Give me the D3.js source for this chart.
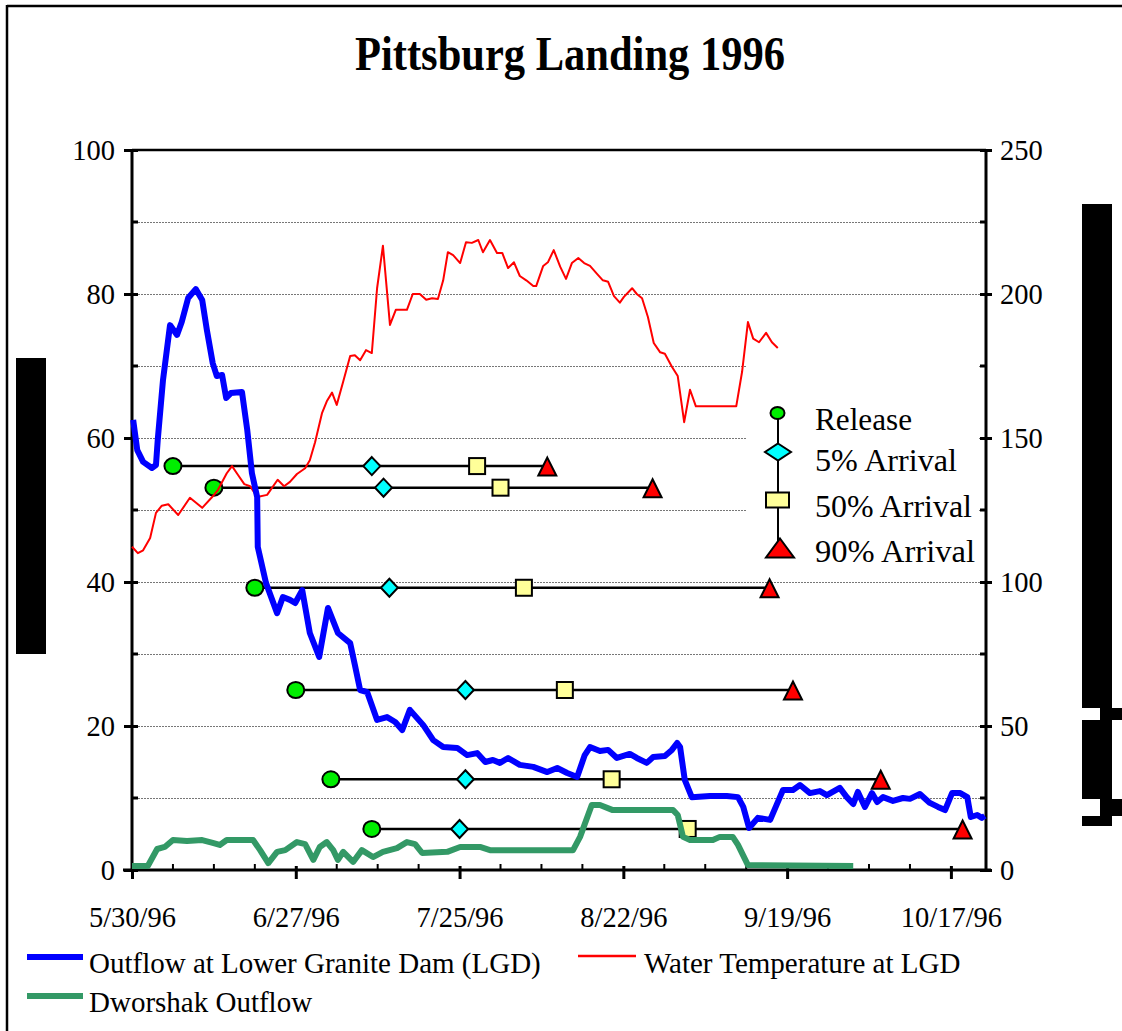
<!DOCTYPE html>
<html><head><meta charset="utf-8">
<script src="https://cdn.jsdelivr.net/npm/d3@7"></script>
<style>
body{margin:0;background:#fff}
svg{display:block}
text{font-family:"Liberation Serif","Times New Roman",Times,serif;fill:#000}
</style>
</head><body>
<svg id="chart" width="1122" height="1031"></svg>
<script>
// ---------------- DATA ----------------
const chartTitle = "Pittsburg Landing 1996";
const startDate = "5/30/96";
const endDate = "10/23/96";
const xTickLabels = ["5/30/96","6/27/96","7/25/96","8/22/96","9/19/96","10/17/96"];
const leftTicks = [0,20,40,60,80,100];
const rightTicks = [0,50,100,150,200,250];

// Outflow at Lower Granite Dam (kcfs, right axis); days after 5/30/96
const outflowDay = [0.2,0.9,1.9,3.4,4.1,4.4,5.3,6.5,7.7,8.5,
  9.6,10.9,12.0,12.8,13.8,14.5,15.4,16.1,16.9,18.8,
  19.7,20.5,21.4,21.5,22.9,24.8,25.8,27.0,27.9,29.1,
  30.4,32.0,33.5,35.2,37.3,38.1,39.0,40.2,41.9,43.6,
  45.0,46.2,47.5,49.8,51.5,53.2,55.6,57.3,59.0,60.4,
  61.7,62.9,64.3,66.3,68.6,71.0,72.7,74.4,76.1,77.4,
  78.3,80.0,81.4,82.9,85.1,86.3,88.0,89.1,91.1,92.3,
  93.2,93.7,94.5,95.7,98.8,101.7,103.6,104.5,105.5,107.0,
  109.1,111.3,113.0,114.2,115.9,117.6,118.8,121.0,122.2,123.3,
  124.1,125.3,126.5,127.4,128.4,130.1,131.8,133.0,134.7,136.4,
  137.8,139.0,140.2,141.6,142.8,143.4,144.5,145.3,145.8];
const outflowKcfs = [156.3,145.8,141.7,139.6,140.6,149.3,170.1,189.2,185.8,190.3,
  198.6,201.7,197.9,187.5,176.0,171.5,171.9,163.9,165.6,166.0,
  152.8,137.8,129.5,112.2,99.7,89.2,94.8,93.8,92.7,97.2,
  82.3,74.0,91.0,82.3,78.8,71.2,62.5,61.8,52.1,53.1,
  51.4,48.6,55.6,50.3,45.1,42.7,42.4,39.9,40.6,37.5,
  38.2,37.2,38.9,36.5,35.8,34.0,35.4,33.7,32.3,39.9,
  42.7,41.3,41.7,38.9,40.3,38.9,37.2,39.2,39.6,41.7,
  44.1,42.7,31.3,25.3,25.7,25.7,25.3,21.9,14.6,18.1,
  17.4,27.8,27.8,29.5,26.7,27.4,26.0,28.5,25.3,22.9,
  27.1,21.9,26.7,23.6,25.3,24.0,25.0,24.7,26.4,23.3,
  21.9,20.8,26.7,26.7,25.3,18.4,19.1,18.1,18.8];

// Water temperature at LGD (left axis)
const tempDay = [0,1.0,1.9,3.1,4.1,5.1,6.2,7.9,9.9,12.0,
  13.7,14.7,16.2,17.1,18.1,19.2,20.2,21.4,23.1,24.9,
  26.0,27.0,28.2,29.6,30.4,31.3,32.5,33.3,34.2,35.0,
  36.1,37.3,38.1,39.0,40.0,41.0,41.9,42.9,44.1,45.1,
  47.0,48.0,49.2,50.3,51.3,52.3,53.2,54.0,54.9,56.1,
  57.1,58.1,59.2,60.0,61.2,62.4,63.3,64.3,65.3,66.3,
  67.4,68.6,69.1,70.3,71.1,72.1,73.2,74.2,75.2,76.3,
  77.3,78.3,79.5,80.5,81.4,82.4,83.4,84.1,85.5,86.3,
  87.2,88.2,89.2,90.3,91.1,92.3,93.3,94.4,95.4,96.4,
  103.3,104.3,105.3,106.2,107.2,108.4,109.4,110.4];
const tempValue = [44.9,44.0,44.4,46.1,49.6,50.6,50.8,49.3,51.7,50.3,
  51.8,52.8,55.1,56.1,54.9,53.6,53.3,51.8,52.1,54.2,
  53.3,53.9,55.0,55.8,56.9,59.4,63.5,65.1,66.3,64.6,
  67.8,71.4,71.5,70.8,72.2,71.8,80.8,86.7,75.7,77.8,
  77.8,80.0,80.0,79.2,79.4,79.3,81.9,85.8,85.4,84.3,
  87.2,87.1,87.5,85.8,87.5,85.7,85.7,83.6,84.4,82.5,
  81.9,81.1,81.1,83.9,84.4,86.1,83.8,82.1,84.3,85.0,
  84.3,83.9,82.8,81.9,81.7,79.7,78.8,79.6,80.8,80.0,
  79.4,76.8,73.2,71.9,71.7,69.9,68.6,62.2,66.7,64.4,
  64.4,69.2,76.1,73.8,73.3,74.6,73.3,72.5];

// Dworshak outflow (kcfs, right axis)
const dworshakDay = [0,2.7,4.3,5.6,7.0,9.4,12.0,13.8,15.0,16.2,
  20.7,21.9,23.3,24.8,26.2,28.2,29.6,31.0,32.1,33.3,
  34.4,35.2,36.1,37.8,39.3,41.2,42.9,45.3,47.0,48.4,
  49.6,53.9,56.1,59.5,61.2,75.4,76.6,78.6,80.0,82.2,
  92.5,93.3,94.2,95.4,99.3,100.5,102.7,103.6,105.3,123.3];
const dworshakKcfs = [1.4,1.4,7.3,8.0,10.4,10.1,10.4,9.4,8.7,10.4,
  10.4,6.9,2.4,6.3,6.9,9.7,9.0,3.5,8.0,9.7,
  6.9,3.5,6.3,2.8,6.9,4.5,6.3,7.6,9.7,9.0,
  5.9,6.3,8.0,8.0,6.9,6.9,11.5,22.6,22.6,20.8,
  20.8,19.1,11.5,10.4,10.4,11.5,11.5,8.7,1.7,1.4];

// Release groups (days after 5/30/96) and the level (left axis) each group is drawn at
const releaseDay   = [7,14,21,28,34,41];
const arrival5Day  = [41,43,44,57,57,56];
const arrival50Day = [59,63,67,74,82,95];
const arrival90Day = [71,89,109,113,128,142];
const groupLevel   = [56.1,53.1,39.2,25.0,12.6,5.7];

const markerLegend = ["Release","5% Arrival","50% Arrival","90% Arrival"];
const seriesNames = ["Outflow at Lower Granite Dam (LGD)","Water Temperature at LGD","Dworshak Outflow"];

// ---------------- DRAW ----------------
const svg = d3.select("#chart");
const parse = d3.utcParse("%m/%d/%y");
const t0 = parse(startDate);
const dayToDate = d => new Date(t0.getTime() + d * 864e5);

const L = 132, R = 986, T = 150, B = 870;
const x = d3.scaleUtc().domain([t0, parse(endDate)]).range([L, R]);
const yL = d3.scaleLinear().domain([0,100]).range([B, T]);
const yR = d3.scaleLinear().domain([0,250]).range([B, T]);

// outer frame
svg.append("line").attr("x1",7).attr("x2",1122).attr("y1",6).attr("y2",6).attr("stroke","#000").attr("stroke-width",2.5);
svg.append("line").attr("x1",7).attr("x2",7).attr("y1",5).attr("y2",1031).attr("stroke","#000").attr("stroke-width",2.5);

// title
svg.append("text").attr("x",355).attr("y",70).attr("font-size",48).attr("font-weight","bold")
  .attr("textLength",430).attr("lengthAdjust","spacingAndGlyphs").text(chartTitle);

// black (unrendered) axis titles
svg.append("rect").attr("x",16).attr("y",358).attr("width",30).attr("height",296).attr("fill","#000");
const rb = svg.append("g").attr("fill","#000");
rb.append("rect").attr("x",1082).attr("y",204).attr("width",30).attr("height",504);
rb.append("rect").attr("x",1100).attr("y",708).attr("width",22).attr("height",12);
rb.append("rect").attr("x",1082).attr("y",720).attr("width",30).attr("height",79);
rb.append("rect").attr("x",1100).attr("y",799).attr("width",22).attr("height",17);
rb.append("rect").attr("x",1082).attr("y",816).attr("width",30).attr("height",10);

// gridlines every 10 (left axis)
const gridVals = d3.range(10,100,10);
svg.append("g").selectAll("line").data(gridVals).join("line")
  .attr("x1",L).attr("x2",R).attr("y1",d=>yL(d)+0.5).attr("y2",d=>yL(d)+0.5)
  .attr("stroke","#777").attr("stroke-width",1).attr("stroke-dasharray","2,1");

// plot top border
svg.append("line").attr("x1",L).attr("x2",R).attr("y1",T).attr("y2",T).attr("stroke","#000").attr("stroke-width",2.5);

// legend box (white, covers gridlines)
svg.append("rect").attr("x",747).attr("y",360).attr("width",232).attr("height",215).attr("fill","#fff");

// left axis
const fs = 28.5;
const gL = svg.append("g").attr("transform",`translate(${L},0)`)
  .call(d3.axisLeft(yL).tickValues(leftTicks).tickSize(8).tickPadding(9).tickFormat(d3.format("d")));
gL.select(".domain").attr("stroke","#000").attr("stroke-width",3).attr("d",`M0,${T}V${B+2}`);
gL.selectAll(".tick line").attr("x1",6).attr("x2",-8).attr("stroke-width",3);
gL.selectAll(".tick text").attr("font-size",fs).attr("font-family",null);
gL.selectAll(".minor").data(d3.range(10,100,20)).join("line").attr("class","minor")
  .attr("x1",0).attr("x2",6).attr("y1",d=>yL(d)).attr("y2",d=>yL(d)).attr("stroke","#000").attr("stroke-width",3);

// right axis
const gR = svg.append("g").attr("transform",`translate(${R},0)`)
  .call(d3.axisRight(yR).tickValues(rightTicks).tickSize(6).tickPadding(8).tickFormat(d3.format("d")));
gR.select(".domain").attr("stroke","#000").attr("stroke-width",3).attr("d",`M0,${T-1}V${B+2}`);
gR.selectAll(".tick line").attr("x1",-6).attr("x2",6).attr("stroke-width",3);
gR.selectAll(".tick text").attr("font-size",fs).attr("font-family",null);
gR.selectAll(".minor").data(d3.range(25,250,50)).join("line").attr("class","minor")
  .attr("x1",0).attr("x2",-6).attr("y1",d=>yR(d)).attr("y2",d=>yR(d)).attr("stroke","#000").attr("stroke-width",3);

// bottom axis
const majorDates = xTickLabels.map(parse);
const gB = svg.append("g").attr("transform",`translate(0,${B})`)
  .call(d3.axisBottom(x).tickValues(majorDates).tickSize(9).tickPadding(28).tickFormat((d,i)=>xTickLabels[i]));
gB.select(".domain").attr("stroke","#000").attr("stroke-width",3).attr("d",`M${L-9},0H${R+5}`);
gB.selectAll(".tick line").attr("y1",-4).attr("y2",9).attr("stroke-width",3);
gB.selectAll(".tick text").attr("font-size",fs).attr("font-family",null).attr("dy","0.71em").attr("y",37);
const minorDays = d3.range(0,147,7).filter(d=>d%28!==0);
gB.selectAll(".minor").data(minorDays).join("line").attr("class","minor")
  .attr("x1",d=>x(dayToDate(d))).attr("x2",d=>x(dayToDate(d))).attr("y1",0).attr("y2",-6)
  .attr("stroke","#000").attr("stroke-width",2);

// ---- release / arrival markers ----
const mk = svg.append("g");
const groups = releaseDay.map((r,i)=>({r, a5:arrival5Day[i], a50:arrival50Day[i], a90:arrival90Day[i], lv:groupLevel[i]}));
mk.selectAll("line.grp").data(groups).join("line").attr("class","grp")
  .attr("x1",d=>x(dayToDate(d.r))).attr("x2",d=>x(dayToDate(d.a90)))
  .attr("y1",d=>yL(d.lv)).attr("y2",d=>yL(d.lv)).attr("stroke","#000").attr("stroke-width",2.5);

function diamondPath(cx,cy,w,h){return `M${cx},${cy-h/2}L${cx+w/2},${cy}L${cx},${cy+h/2}L${cx-w/2},${cy}Z`;}
function trianglePath(cx,cy,w,h){return `M${cx},${cy-h/2}L${cx+w/2},${cy+h/2}L${cx-w/2},${cy+h/2}Z`;}

mk.selectAll("ellipse.rel").data(groups).join("ellipse").attr("class","rel")
  .attr("cx",d=>x(dayToDate(d.r))).attr("cy",d=>yL(d.lv)).attr("rx",8.5).attr("ry",8)
  .attr("fill","#00ee00").attr("stroke","#000").attr("stroke-width",2);
mk.selectAll("path.a5").data(groups).join("path").attr("class","a5")
  .attr("d",d=>diamondPath(x(dayToDate(d.a5)),yL(d.lv),17,18))
  .attr("fill","#00ffff").attr("stroke","#000").attr("stroke-width",2);
mk.selectAll("rect.a50").data(groups).join("rect").attr("class","a50")
  .attr("x",d=>x(dayToDate(d.a50))-8).attr("y",d=>yL(d.lv)-8).attr("width",16).attr("height",16)
  .attr("fill","#ffff99").attr("stroke","#000").attr("stroke-width",2);
mk.selectAll("path.a90").data(groups).join("path").attr("class","a90")
  .attr("d",d=>trianglePath(x(dayToDate(d.a90)),yL(d.lv)+0.5,18,18))
  .attr("fill","#ff0000").attr("stroke","#000").attr("stroke-width",2);

// ---- series lines ----
const lineTemp = d3.line().x((d,i)=>x(dayToDate(tempDay[i]))).y(d=>yL(d));
svg.append("path").datum(tempValue).attr("d",lineTemp).attr("fill","none")
  .attr("stroke","#ff0000").attr("stroke-width",2).attr("stroke-linejoin","round");

const lineOut = d3.line().x((d,i)=>x(dayToDate(outflowDay[i]))).y(d=>yR(d));
svg.append("path").datum(outflowKcfs).attr("d",lineOut).attr("fill","none")
  .attr("stroke","#0000ff").attr("stroke-width",6).attr("stroke-linejoin","round");

const lineDw = d3.line().x((d,i)=>x(dayToDate(dworshakDay[i]))).y(d=>yR(d));
svg.append("path").datum(dworshakKcfs).attr("d",lineDw).attr("fill","none")
  .attr("stroke","#339966").attr("stroke-width",6).attr("stroke-linejoin","round");

// ---- marker legend ----
const lg = svg.append("g");
const lgY = [413,452,500,548];
lg.append("line").attr("x1",778).attr("x2",778).attr("y1",lgY[0]).attr("y2",lgY[3]).attr("stroke","#000").attr("stroke-width",2);
lg.append("ellipse").attr("cx",777.5).attr("cy",lgY[0]).attr("rx",7).attr("ry",6).attr("fill","#00ee00").attr("stroke","#000").attr("stroke-width",2);
lg.append("path").attr("d",diamondPath(778,lgY[1],26,17)).attr("fill","#00ffff").attr("stroke","#000").attr("stroke-width",2);
lg.append("rect").attr("x",766).attr("y",lgY[2]-7.5).attr("width",23).attr("height",15).attr("fill","#ffff99").attr("stroke","#000").attr("stroke-width",2);
lg.append("path").attr("d",trianglePath(780,lgY[3],28,19)).attr("fill","#ff0000").attr("stroke","#000").attr("stroke-width",2);
const lgTextY = [430,471,517,562];
const lgW = [97,142,157,160];
lg.selectAll("text").data(markerLegend).join("text")
  .attr("x",815).attr("y",(d,i)=>lgTextY[i]).attr("font-size",31)
  .attr("textLength",(d,i)=>lgW[i]).attr("lengthAdjust","spacingAndGlyphs").text(d=>d);

// ---- series legend ----
const sl = svg.append("g");
const slItems = [
  {name:seriesNames[0], color:"#0000ff", w:6, x0:27, x1:83, y:957, tx:89, ty:973},
  {name:seriesNames[1], color:"#ff0000", w:2.5, x0:578, x1:636, y:956, tx:644, ty:973},
  {name:seriesNames[2], color:"#339966", w:6, x0:27, x1:83, y:996, tx:89, ty:1012}
];
sl.selectAll("line").data(slItems).join("line")
  .attr("x1",d=>d.x0).attr("x2",d=>d.x1).attr("y1",d=>d.y).attr("y2",d=>d.y)
  .attr("stroke",d=>d.color).attr("stroke-width",d=>d.w);
sl.selectAll("text").data(slItems).join("text")
  .attr("x",d=>d.tx).attr("y",d=>d.ty).attr("font-size",29).text(d=>d.name);
</script>
</body></html>
